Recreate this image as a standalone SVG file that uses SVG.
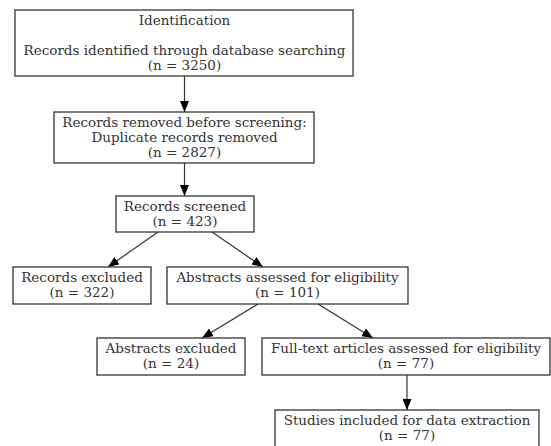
<svg xmlns="http://www.w3.org/2000/svg" width="551" height="446" viewBox="0 0 551 446">
<defs>
<marker id="ah" markerUnits="userSpaceOnUse" markerWidth="11" markerHeight="9" viewBox="0 0 11 9" refX="11" refY="4.5" orient="auto">
<path d="M0,0 L11,4.5 L0,9 Z" fill="#000"/>
</marker>
<style>
.n{fill:#fff;stroke:#333;stroke-width:1.3}
text{font-family:"DejaVu Serif","Liberation Serif",serif;font-size:13.5px;fill:#333;text-anchor:middle}
.e{stroke:#333;stroke-width:1.2;fill:none;marker-end:url(#ah)}
</style>
</defs>
<rect width="551" height="446" fill="#fff"/>
<g id="edges">
<path class="e" d="M184.5,76 L184.5,112"/>
<path class="e" d="M184.5,163 L184.5,196"/>
<path class="e" d="M158,232 L108,267"/>
<path class="e" d="M212,232 L263,267"/>
<path class="e" d="M258,304 L202,338"/>
<path class="e" d="M318,304 L373,338"/>
<path class="e" d="M407,375 L407,410"/>
</g>
<g id="identification">
<rect class="n" x="15" y="10" width="338" height="66"/>
<text x="184.5" y="25">Identification</text>
<text x="184.5" y="55">Records identified through database searching</text>
<text x="184.5" y="70">(n = 3250)</text>
</g>
<g id="removed">
<rect class="n" x="54" y="112" width="260" height="51"/>
<text x="184.5" y="127">Records removed before screening:</text>
<text x="184.5" y="142">Duplicate records removed</text>
<text x="184.5" y="157">(n = 2827)</text>
</g>
<g id="screened">
<rect class="n" x="116" y="196" width="138" height="36"/>
<text x="185" y="211">Records screened</text>
<text x="185" y="226">(n = 423)</text>
</g>
<g id="excluded">
<rect class="n" x="13" y="267" width="138" height="37"/>
<text x="82" y="282">Records excluded</text>
<text x="82" y="297">(n = 322)</text>
</g>
<g id="abstracts">
<rect class="n" x="167" y="267" width="241" height="37"/>
<text x="287.5" y="282">Abstracts assessed for eligibility</text>
<text x="287.5" y="297">(n = 101)</text>
</g>
<g id="abstracts-excluded">
<rect class="n" x="97" y="338" width="148" height="37"/>
<text x="171" y="353">Abstracts excluded</text>
<text x="171" y="368">(n = 24)</text>
</g>
<g id="fulltext">
<rect class="n" x="262" y="338" width="288" height="37"/>
<text x="406" y="353">Full-text articles assessed for eligibility</text>
<text x="406" y="368">(n = 77)</text>
</g>
<g id="included">
<rect class="n" x="275" y="410" width="264" height="40"/>
<text x="407" y="425">Studies included for data extraction</text>
<text x="407" y="440">(n = 77)</text>
</g>
</svg>
